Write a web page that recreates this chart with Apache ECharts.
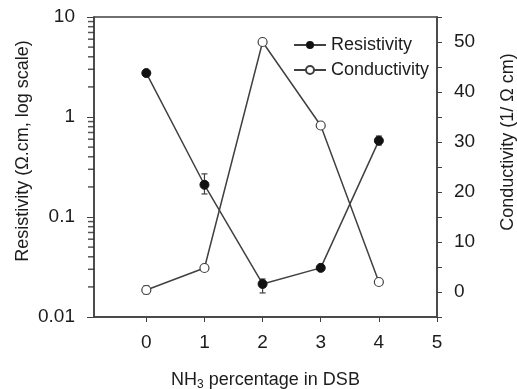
<!DOCTYPE html>
<html>
<head>
    <meta charset="UTF-8">
    <title>Resistivity / Conductivity vs NH3</title>
    <style>
        html, body { margin: 0; padding: 0; background: #fff; }
        #chart-container { width: 517px; height: 389px; }
    </style>
</head>
<body>
<div id="chart-container"></div>
<script src="https://cdn.jsdelivr.net/npm/echarts@6/dist/echarts.min.js"></script>
<script>
    // data
    const nh3 = [0, 1, 2, 3, 4];
    const resistivity = [2.75, 0.21, 0.0214, 0.031, 0.58];
    const resErrLow = [null, 0.17, 0.0174, null, 0.525];
    const resErrHigh = [null, 0.27, 0.024, null, 0.645];
    const conductivity = [0.4, 4.8, 50, 33.3, 2.0];
    const condErrLow = [-0.4, null, null, null, null];
    const condErrHigh = [1.2, null, null, null, null];

    const xTicks = [0, 1, 2, 3, 4, 5];
    const condLabels = [0, 10, 20, 30, 40, 50];
    const logMinorTicks = [0.02, 0.03, 0.04, 0.05, 0.06, 0.07, 0.08, 0.09,
        0.2, 0.3, 0.4, 0.5, 0.6, 0.7, 0.8, 0.9,
        2, 3, 4, 5, 6, 7, 8, 9];

    const X_MIN = -0.9;
    const FONT = "'Liberation Sans', Arial, sans-serif";
    const INK = '#1c1c1c';
    const LINE = '#404040';

    function errData(lo, hi) {
        const out = [];
        nh3.forEach(function (x, i) {
            if (lo[i] != null && hi[i] != null) out.push([x, lo[i], hi[i]]);
        });
        return out;
    }

    function renderErr(params, api) {
        const x = api.value(0);
        const p1 = api.coord([x, api.value(1)]);
        const p2 = api.coord([x, api.value(2)]);
        const w = 3;
        const st = { stroke: LINE, lineWidth: 1.2 };
        return {
            type: 'group',
            children: [
                { type: 'line', shape: { x1: p1[0], y1: p1[1], x2: p2[0], y2: p2[1] }, style: st },
                { type: 'line', shape: { x1: p1[0] - w, y1: p1[1], x2: p1[0] + w, y2: p1[1] }, style: st },
                { type: 'line', shape: { x1: p2[0] - w, y1: p2[1], x2: p2[0] + w, y2: p2[1] }, style: st }
            ]
        };
    }

    const chart = echarts.init(document.getElementById('chart-container'));

    const option = {
        animation: false,
        textStyle: { fontFamily: FONT, color: INK },
        grid: {
            left: 94, right: 80, top: 17, bottom: 72,
            outerBoundsMode: 'none',
            show: true, borderColor: LINE, borderWidth: 1.5
        },
        legend: {
            orient: 'vertical',
            left: 293,
            top: 36,
            padding: 0,
            itemWidth: 32,
            itemHeight: 10,
            itemGap: 7,
            textStyle: { fontSize: 18, color: INK, fontFamily: FONT },
            data: ['Resistivity', 'Conductivity']
        },
        xAxis: {
            type: 'value',
            min: X_MIN,
            max: 5,
            name: '{a|NH}{s|3}{a| percentage in DSB}',
            nameLocation: 'middle',
            nameGap: 52,
            nameTextStyle: {
                rich: {
                    a: { fontSize: 18, fontFamily: FONT, color: INK },
                    s: { fontSize: 12, fontFamily: FONT, color: INK, verticalAlign: 'bottom', padding: [10, 0, 0, 0] }
                }
            },
            axisLine: { onZero: false, lineStyle: { color: LINE, width: 1.5 } },
            axisTick: { length: 5, lineStyle: { color: LINE }, customValues: xTicks },
            axisLabel: { fontSize: 19, color: INK, margin: 16, customValues: xTicks },
            splitLine: { show: false }
        },
        yAxis: [{
            type: 'log',
            logBase: 10,
            min: 0.01,
            max: 10,
            position: 'left',
            axisLine: { show: true, onZero: false, lineStyle: { color: LINE, width: 1.5 } },
            axisTick: { length: 7, lineStyle: { color: LINE } },
            axisLabel: { fontSize: 19, color: INK, margin: 19 },
            splitLine: { show: false }
        }, {
            type: 'value',
            min: -5,
            max: 55,
            interval: 5,
            position: 'right',
            axisLine: { show: true, onZero: false, lineStyle: { color: LINE, width: 1.5 } },
            axisTick: { length: 5, lineStyle: { color: LINE } },
            axisLabel: {
                fontSize: 19, color: INK, margin: 17,
                formatter: function (v) { return condLabels.indexOf(v) >= 0 ? String(v) : ''; }
            },
            splitLine: { show: false }
        }],
        graphic: [{
            type: 'text',
            x: 23, y: 151,
            rotation: Math.PI / 2,
            style: { text: 'Resistivity (Ω.cm, log scale)', font: '18px ' + FONT, fill: INK, align: 'center', verticalAlign: 'middle' }
        }, {
            type: 'text',
            x: 508, y: 142,
            rotation: Math.PI / 2,
            style: { text: 'Conductivity (1/ Ω cm)', font: '18px ' + FONT, fill: INK, align: 'center', verticalAlign: 'middle' }
        }],
        series: [{
            name: 'Resistivity',
            type: 'line',
            yAxisIndex: 0,
            data: nh3.map(function (x, i) { return [x, resistivity[i]]; }),
            symbol: 'circle',
            symbolSize: 9,
            itemStyle: { color: '#111', borderColor: '#111' },
            lineStyle: { color: LINE, width: 1.5 },
            z: 3
        }, {
            name: 'Conductivity',
            type: 'line',
            yAxisIndex: 1,
            data: nh3.map(function (x, i) { return [x, conductivity[i]]; }),
            symbol: 'circle',
            symbolSize: 9,
            itemStyle: { color: '#fff', borderColor: LINE, borderWidth: 1.2 },
            lineStyle: { color: LINE, width: 1.5 },
            z: 3
        }, {
            type: 'custom',
            yAxisIndex: 0,
            renderItem: renderErr,
            data: errData(resErrLow, resErrHigh),
            z: 2
        }, {
            type: 'custom',
            yAxisIndex: 1,
            renderItem: renderErr,
            data: errData(condErrLow, condErrHigh),
            z: 2
        }, {
            // minor ticks of the log axis (2..9 in every decade)
            name: 'minor',
            type: 'scatter',
            yAxisIndex: 0,
            clip: false,
            symbol: 'rect',
            symbolSize: [6, 1.5],
            symbolOffset: [-3, 0],
            itemStyle: { color: '#2a2a2a' },
            data: logMinorTicks.map(function (v) { return [X_MIN, v]; })
        }]
    };

    chart.setOption(option);
</script>
</body>
</html>
